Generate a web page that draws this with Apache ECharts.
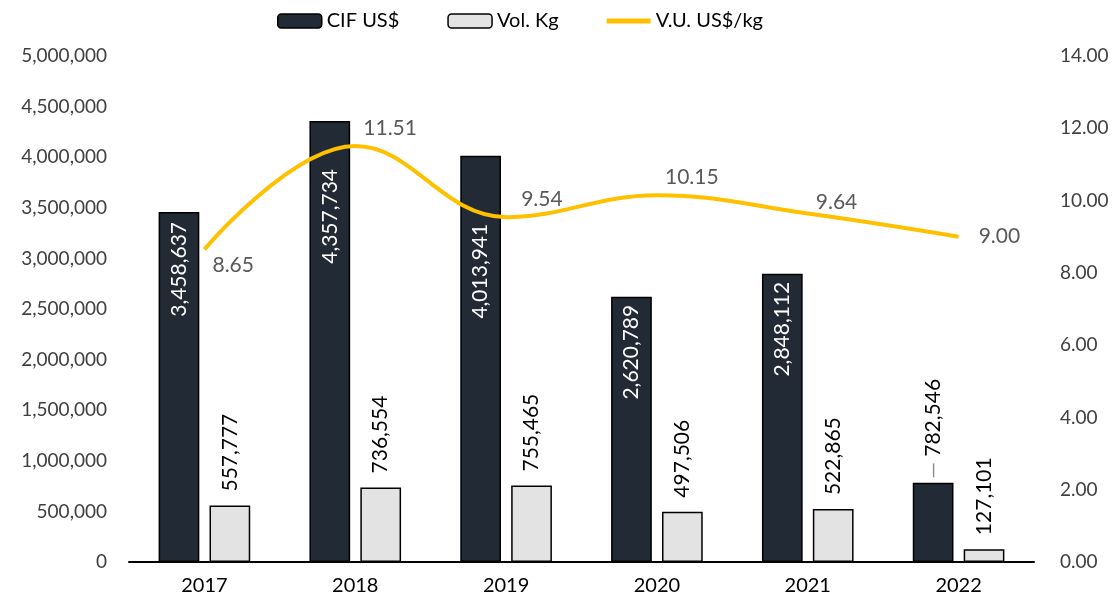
<!DOCTYPE html>
<html>
<head>
<meta charset="utf-8">
<script src="https://cdn.jsdelivr.net/npm/echarts@6/dist/echarts.min.js"></script>
<style>
  html, body { margin: 0; padding: 0; background: #fff; }
  #chart { width: 1119px; height: 608px; }
</style>
</head>
<body>
<div id="chart"></div>
<script>
// data
const years = ["2017", "2018", "2019", "2020", "2021", "2022"];
const cifUsd = [3458637, 4357734, 4013941, 2620789, 2848112, 782546];
const volKg = [557777, 736554, 755465, 497506, 522865, 127101];
const unitValue = [8.65, 11.51, 9.54, 10.15, 9.64, 9.0];

// where each price label sits relative to its point
const priceLabelPos = [
  { position: "right", offset: [0, 16] },
  { position: "right", offset: [0, -18] },
  { position: "right", offset: [7, -18] },
  { position: "right", offset: [0, -18] },
  { position: "right", offset: [0, -11] },
  { position: "right", offset: [12, 0] },
];
// CIF labels were nudged down in the original to clear the price line
const cifLabelGap = [10, 48, 68, 8, 8, 4];

const font = "Lato, 'Noto Sans', sans-serif";
const fmt = (v) => Number(v).toLocaleString("en-US");

const chart = echarts.init(document.getElementById("chart"));

// small bars get their label outside, with a short leader dash
const cifData = cifUsd.map((v, i) => {
  if (v > 1000000) return { value: v, label: { distance: cifLabelGap[i] } };
  return {
    value: v,
    label: {
      position: "top",
      color: "#000",
      align: "left",
      distance: cifLabelGap[i],
      formatter: (p) => "{d|—} " + fmt(p.value),
    },
  };
});

const option = {
  backgroundColor: "#fff",
  textStyle: { fontFamily: font },
  legend: {
    top: 6,
    left: 272,
    itemWidth: 44,
    itemHeight: 14,
    itemGap: 48,
    textStyle: { fontSize: 20, color: "#000", fontFamily: font },
    data: [
      { name: "CIF US$", itemStyle: { borderColor: "#000", borderWidth: 1.5 } },
      { name: "Vol. Kg", itemStyle: { borderColor: "#000", borderWidth: 1.5 } },
      { name: "V.U. US$/kg", icon: "path://M0,0h44v5h-44z" },
    ],
  },
  grid: { left: 129, right: 85, top: 56, bottom: 46 },
  xAxis: {
    type: "category",
    data: years,
    axisLine: { lineStyle: { color: "#000", width: 2 } },
    axisTick: { show: false },
    axisLabel: { fontSize: 20, color: "#000", margin: 14, fontFamily: font },
  },
  yAxis: [
    {
      type: "value",
      min: 0,
      max: 5000000,
      interval: 500000,
      splitLine: { show: false },
      axisLine: { show: false },
      axisTick: { show: false },
      axisLabel: {
        fontSize: 19,
        color: "#404040",
        margin: 22,
        fontFamily: font,
        formatter: (v) => fmt(v),
      },
    },
    {
      type: "value",
      min: 0,
      max: 14,
      interval: 2,
      splitLine: { show: false },
      axisLine: { show: false },
      axisTick: { show: false },
      axisLabel: {
        fontSize: 19,
        color: "#404040",
        margin: 26,
        fontFamily: font,
        formatter: (v) => v.toFixed(2),
      },
    },
  ],
  series: [
    {
      name: "CIF US$",
      type: "bar",
      data: cifData,
      barWidth: "27%",
      barGap: "25%",
      itemStyle: { color: "#222a35", borderColor: "#000", borderWidth: 1.5 },
      label: {
        show: true,
        position: "insideTop",
        rotate: 90,
        align: "right",
        verticalAlign: "middle",
        distance: 8,
        color: "#fff",
        fontSize: 21,
        fontFamily: font,
        formatter: (p) => fmt(p.value),
        rich: {
          d: { color: "#8c8c8c", fontSize: 21, fontFamily: font },
        },
      },
    },
    {
      name: "Vol. Kg",
      type: "bar",
      data: volKg,
      barWidth: "27%",
      barGap: "25%",
      itemStyle: { color: "#e3e3e3", borderColor: "#000", borderWidth: 1.5 },
      label: {
        show: true,
        position: "top",
        rotate: 90,
        align: "left",
        verticalAlign: "middle",
        distance: 14,
        color: "#000",
        fontSize: 21,
        fontFamily: font,
        formatter: (p) => fmt(p.value),
      },
    },
    {
      name: "V.U. US$/kg",
      type: "line",
      yAxisIndex: 1,
      smooth: 0.4,
      symbol: "circle",
      symbolSize: 0.1,
      showSymbol: true,
      z: 5,
      lineStyle: { color: "#ffc000", width: 4 },
      itemStyle: { color: "#ffc000" },
      data: unitValue.map((v, i) => ({ value: v, label: priceLabelPos[i] })),
      label: {
        show: true,
        color: "#595959",
        fontSize: 21,
        fontFamily: font,
        distance: 8,
        formatter: (p) => p.value.toFixed(2),
      },
    },
  ],
};

chart.setOption(option);
</script>
</body>
</html>
